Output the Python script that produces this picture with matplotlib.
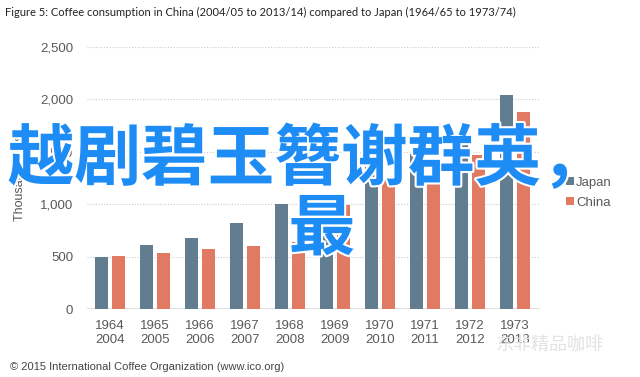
import matplotlib.pyplot as plt
import matplotlib.patheffects as pe
import numpy as np

plt.rcParams["font.family"] = ["Liberation Sans", "DejaVu Sans"]

japan_years = ["1964", "1965", "1966", "1967", "1968", "1969", "1970", "1971", "1972", "1973"]
china_years = ["2004", "2005", "2006", "2007", "2008", "2009", "2010", "2011", "2012", "2013"]
japan = [495, 615, 676, 819, 1000, 1088, 1350, 1480, 1610, 2041]
china = [510, 539, 574, 606, 640, 990, 1260, 1280, 1470, 1876]
yticks = [0, 500, 1000, 1500, 2000, 2500]

c_japan = "#627d8f"
c_china = "#e07a62"
c_text = "#595959"

fig = plt.figure(figsize=(6.4, 3.77), dpi=100)
ax = fig.add_axes([0.136, 0.18, 0.708, 0.696])

x = np.arange(len(japan))
w = 0.29
ax.bar(x - 0.19, japan, w, color=c_japan, label="Japan", zorder=3)
ax.bar(x + 0.19, china, w, color=c_china, label="China", zorder=3)

ax.set_xlim(-0.51, 9.56)
ax.set_ylim(0, 2500)
ax.set_yticks(yticks)
ax.set_yticklabels([f"{v:,}" for v in yticks], color=c_text, fontsize=9.5)
ax.set_xticks(x)
ax.set_xticklabels([f"{a}\n{b}" for a, b in zip(japan_years, china_years)],
                   color=c_text, fontsize=9.5, linespacing=1.15)
ax.tick_params(length=0, pad=8)
ax.tick_params(axis="y", pad=10)
for v in yticks[1:]:
    ax.axhline(v, color="#cccccc", lw=0.8, ls=(0, (1, 1.5)), zorder=1)
ax.axhline(0, color="#d9d9d9", lw=1.2, zorder=2)
for s in ax.spines.values():
    s.set_visible(False)
ax.set_ylabel("Thousand bags", color=c_text, fontsize=9, labelpad=10)

ax.legend(loc="upper left", bbox_to_anchor=(1.03, 0.55), frameon=False,
          handlelength=0.6, handleheight=0.6, handletextpad=0.2,
          labelspacing=0.6, fontsize=9.5, labelcolor=c_text)

fig.text(0.008, 0.967, "Figure 5: Coffee consumption in China (2004/05 to 2013/14) compared to Japan (1964/65 to 1973/74)",
         fontsize=8.0, color="#222222", va="center", family="Lato")
fig.text(0.015, 0.027, "\u00a9 2015 International Coffee Organization (www.ico.org)",
         fontsize=8, color="#444444", va="center")
fig.text(0.775, 0.085, "东非精品咖啡", fontsize=13, color="#e2e2e2", va="center",
         family=["Noto Sans CJK SC", "DejaVu Sans"])

stroke = [pe.withStroke(linewidth=3, foreground="white")]
fig.text(0.012, 0.575, "越剧碧玉簪谢群英，", fontsize=48, color="#1e8cf5", va="center",
         fontweight="bold", family=["Noto Sans CJK SC", "DejaVu Sans"], path_effects=stroke)
fig.text(0.503, 0.39, "最", fontsize=48, color="#1e8cf5", va="center", ha="center",
         fontweight="bold", family=["Noto Sans CJK SC", "DejaVu Sans"], path_effects=stroke)

fig.savefig("out.png", dpi=100)
